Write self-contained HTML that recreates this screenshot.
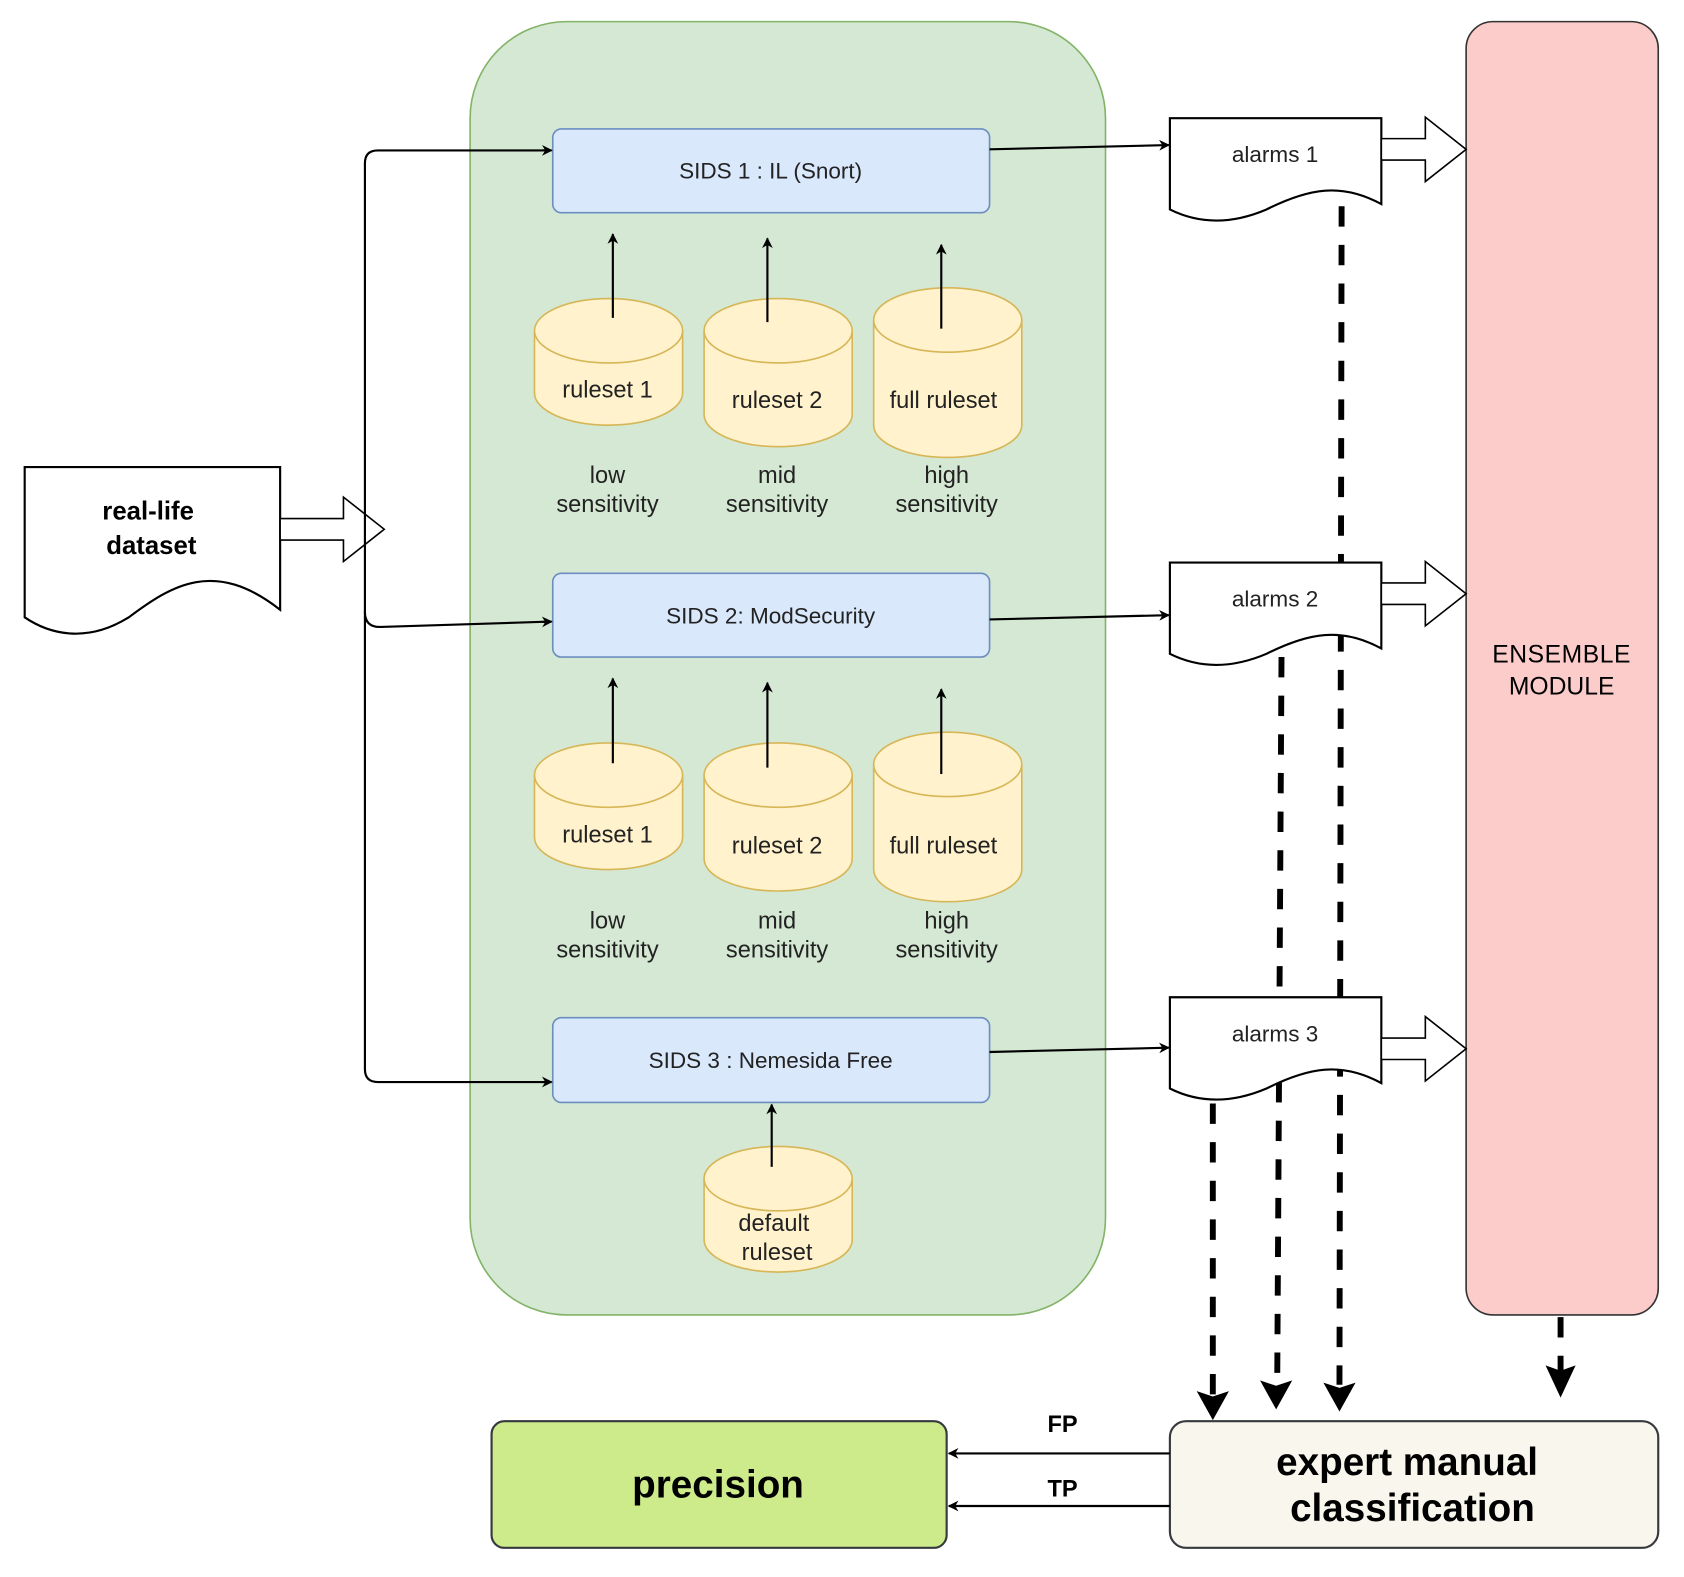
<!DOCTYPE html>
<html><head><meta charset="utf-8"><style>html,body{margin:0;padding:0;background:#fff}svg{display:block}text{font-family:"Liberation Sans",Arial,sans-serif}</style></head>
<body>
<svg width="1684" height="1577" viewBox="0 0 1569 1469" xmlns="http://www.w3.org/2000/svg">
<defs>
<marker id="a" viewBox="0 0 10 10" refX="9" refY="5" markerWidth="10" markerHeight="10" markerUnits="userSpaceOnUse" orient="auto"><path d="M0,0 L10,5 L0,10 L3,5 Z" fill="#000"/></marker>
</defs>
<rect width="1569" height="1469" fill="#fff"/>
<rect x="438" y="20" width="592" height="1205" rx="90" fill="#d5e8d4" stroke="#82b366" stroke-width="1.5"/>
<rect x="1366" y="20" width="179" height="1205" rx="25" fill="#fccccb" stroke="#333" stroke-width="1.5"/>
<text x="1455" y="617" font-size="23" text-anchor="middle" letter-spacing="0.5">ENSEMBLE</text>
<text x="1455" y="647" font-size="23" text-anchor="middle">MODULE</text>
<g fill="#dae8fc" stroke="#6c8ebf" stroke-width="1.5">
<rect x="515" y="120" width="407" height="78" rx="8"/>
<rect x="515" y="534" width="407" height="78" rx="8"/>
<rect x="515" y="948" width="407" height="79" rx="8"/>
</g>
<g font-size="21" text-anchor="middle" fill="#222">
<text x="718" y="166">SIDS 1 : IL (Snort)</text>
<text x="718" y="581">SIDS 2: ModSecurity</text>
<text x="718" y="995">SIDS 3 : Nemesida Free</text>
</g>
<g fill="#fff2cc" stroke="#d6b656" stroke-width="1.5">
<path d="M498,308 v58 a69,30 0 0 0 138,0 v-58"/><ellipse cx="567" cy="308" rx="69" ry="30"/>
<path d="M656,308 v78 a69,30 0 0 0 138,0 v-78"/><ellipse cx="725" cy="308" rx="69" ry="30"/>
<path d="M814,298 v98 a69,30 0 0 0 138,0 v-98"/><ellipse cx="883" cy="298" rx="69" ry="30"/>
<path d="M498,722 v58 a69,30 0 0 0 138,0 v-58"/><ellipse cx="567" cy="722" rx="69" ry="30"/>
<path d="M656,722 v78 a69,30 0 0 0 138,0 v-78"/><ellipse cx="725" cy="722" rx="69" ry="30"/>
<path d="M814,712 v98 a69,30 0 0 0 138,0 v-98"/><ellipse cx="883" cy="712" rx="69" ry="30"/>
<path d="M656,1098 v57 a69,30 0 0 0 138,0 v-57"/><ellipse cx="725" cy="1098" rx="69" ry="30"/>
</g>
<g font-size="22" text-anchor="middle" fill="#222">
<text x="566" y="370">ruleset 1</text><text x="724" y="380">ruleset 2</text><text x="879" y="380">full ruleset</text>
<text x="566" y="785">ruleset 1</text><text x="724" y="795">ruleset 2</text><text x="879" y="795">full ruleset</text>
<text x="721" y="1147">default</text><text x="724" y="1174">ruleset</text>
<text x="566" y="450">low</text><text x="566" y="477">sensitivity</text>
<text x="724" y="450">mid</text><text x="724" y="477">sensitivity</text>
<text x="882" y="450">high</text><text x="882" y="477">sensitivity</text>
<text x="566" y="865">low</text><text x="566" y="892">sensitivity</text>
<text x="724" y="865">mid</text><text x="724" y="892">sensitivity</text>
<text x="882" y="865">high</text><text x="882" y="892">sensitivity</text>
</g>
<g stroke="#000" stroke-width="2" marker-end="url(#a)">
<line x1="571" y1="296" x2="571" y2="218"/>
<line x1="715" y1="300" x2="715" y2="222"/>
<line x1="877" y1="306" x2="877" y2="228"/>
<line x1="571" y1="711" x2="571" y2="632"/>
<line x1="715" y1="715" x2="715" y2="636"/>
<line x1="877" y1="721" x2="877" y2="642"/>
<line x1="719" y1="1087" x2="719" y2="1029"/>
</g>
<path d="M23,435 H261 V568 C200,520 160,545 120,575 C80,600 45,590 23,575 Z" fill="#fff" stroke="#000" stroke-width="2"/>
<text x="138" y="484" font-size="24" font-weight="bold" text-anchor="middle">real-life</text>
<text x="141" y="516" font-size="24" font-weight="bold" text-anchor="middle">dataset</text>
<path d="M261,483 H320 V463 L358,493 L320,523 V503 H261 Z" fill="#fff" stroke="#000" stroke-width="1.5"/>
<g fill="none" stroke="#000" stroke-width="2">
<path d="M513,140 H352 Q340,140 340,152 V996 Q340,1008 352,1008 H513" />
<path d="M340,570 Q340,584 354,584 L513,579"/>
</g>
<g stroke="#000" stroke-width="2" marker-end="url(#a)">
<line x1="505" y1="140" x2="514" y2="140"/>
<line x1="505" y1="579.3" x2="514" y2="579"/>
<line x1="505" y1="1008" x2="514" y2="1008"/>
<line x1="922" y1="139" x2="1089" y2="135"/>
<line x1="922" y1="577" x2="1089" y2="573"/>
<line x1="922" y1="980" x2="1089" y2="976"/>
</g>
<!-- dashed lines (behind docs) -->
<g stroke="#000" stroke-width="5.5" stroke-dasharray="19 17" fill="none">
<line x1="1250" y1="192" x2="1248" y2="1290"/>
<line x1="1194" y1="612" x2="1190" y2="1288"/>
<line x1="1130" y1="1028" x2="1130" y2="1300"/>
<line x1="1454" y1="1227" x2="1454" y2="1280"/>
</g>
<g fill="#000">
<path d="M1233,1288 L1248,1293 L1263,1288 L1248,1315 Z"/>
<path d="M1174,1286 L1189,1291 L1204,1286 L1189,1313 Z"/>
<path d="M1115,1296 L1130,1301 L1145,1296 L1130,1323 Z"/>
<path d="M1440,1272 L1454,1277 L1468,1272 L1454,1302 Z"/>
</g>
<g fill="#fff" stroke="#000" stroke-width="2">
<path d="M1090,110 H1287 V190 C1250,170 1220,175 1180,195 C1140,212 1110,205 1090,195 Z"/>
<path d="M1090,524 H1287 V604 C1250,584 1220,589 1180,609 C1140,626 1110,619 1090,609 Z"/>
<path d="M1090,929 H1287 V1009 C1250,989 1220,994 1180,1014 C1140,1031 1110,1024 1090,1014 Z"/>
</g>
<g font-size="21" text-anchor="middle" fill="#222">
<text x="1188" y="151">alarms 1</text><text x="1188" y="565">alarms 2</text><text x="1188" y="970">alarms 3</text>
</g>
<g fill="#fff" stroke="#000" stroke-width="1.5">
<path d="M1287,129 H1328 V109 L1366,139 L1328,169 V149 H1287 Z"/>
<path d="M1287,543 H1328 V523 L1366,553 L1328,583 V563 H1287 Z"/>
<path d="M1287,967 H1328 V947 L1366,977 L1328,1007 V987 H1287 Z"/>
</g>
<rect x="1090" y="1324" width="455" height="118" rx="15" fill="#f9f7ed" stroke="#36393d" stroke-width="2"/>
<text x="1311" y="1374" font-size="36" font-weight="bold" text-anchor="middle">expert manual</text>
<text x="1316" y="1417" font-size="36" font-weight="bold" text-anchor="middle">classification</text>
<rect x="458" y="1324" width="424" height="118" rx="12" fill="#cdeb8b" stroke="#36393d" stroke-width="2"/>
<text x="669" y="1395" font-size="36" font-weight="bold" text-anchor="middle">precision</text>
<g stroke="#000" stroke-width="2" marker-end="url(#a)">
<line x1="1090" y1="1354" x2="884" y2="1354"/>
<line x1="1090" y1="1403" x2="884" y2="1403"/>
</g>
<text x="990" y="1334" font-size="22" font-weight="bold" text-anchor="middle">FP</text>
<text x="990" y="1394" font-size="22" font-weight="bold" text-anchor="middle">TP</text>
</svg>
</body></html>
